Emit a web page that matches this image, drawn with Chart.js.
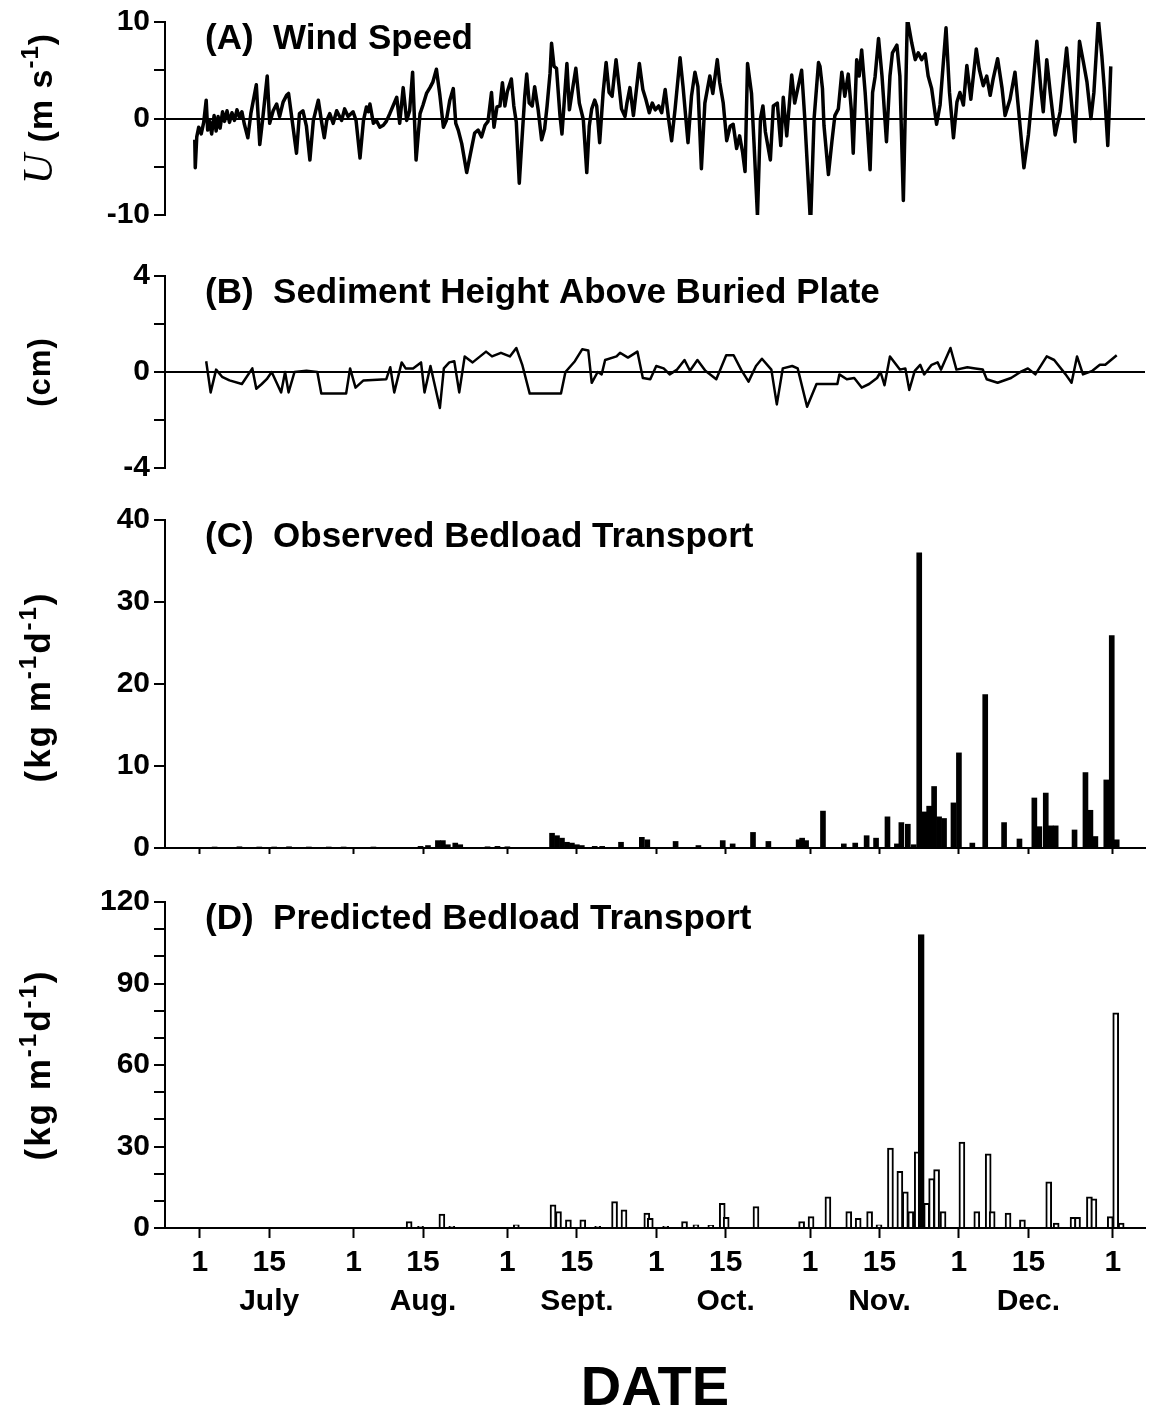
<!DOCTYPE html>
<html>
<head>
<meta charset="utf-8">
<title>Wind speed, sediment height and bedload transport</title>
<script src="https://cdn.jsdelivr.net/npm/chart.js@4.4.1/dist/chart.umd.min.js"></script>
<style>
  body { margin: 0; background: #fff; }
  #page { position: relative; width: 1149px; height: 1415px; overflow: hidden; }
  canvas { position: absolute; left: 0; }
</style>
</head>
<body>
<div id="page">
  <canvas id="windChart" width="1149" height="240" style="top:0px"></canvas>
  <canvas id="sedChart" width="1149" height="240" style="top:250px"></canvas>
  <canvas id="obsChart" width="1149" height="375" style="top:495px"></canvas>
  <canvas id="predChart" width="1149" height="535" style="top:880px"></canvas>
</div>
<script>
const SANS = '"Liberation Sans", Arial, Helvetica, sans-serif';
const SERIF = '"Liberation Serif", "Times New Roman", serif';

Chart.defaults.font.family = SANS;
Chart.defaults.font.weight = 'bold';
Chart.defaults.color = '#000';

// days counted from 1 July (day 0); 1 January is day 184
const dayMin = -7;
const dayMax = 190.5;
const tickDays = [0, 14, 31, 45, 62, 76, 92, 106, 123, 137, 153, 167, 184];
const tickDayLabels = ['1', '15', '1', '15', '1', '15', '1', '15', '1', '15', '1', '15', '1'];
const monthLabels = ['July', 'Aug.', 'Sept.', 'Oct.', 'Nov.', 'Dec.'];

// (A) wind speed, m/s
const windDay = [
  -1.0, -0.9, -0.6, -0.2, 0.3, 0.8, 1.3, 1.6, 2.0, 2.4,
  2.9, 3.3, 3.7, 4.1, 4.6, 5.0, 5.5, 6.0, 6.5, 7.0,
  7.5, 8.0, 8.5, 9.0, 9.7, 10.3, 11.4, 12.1, 12.7, 13.6,
  14.1, 14.8, 15.5, 16.1, 16.8, 17.5, 17.9, 18.7, 19.5, 20.1,
  20.8, 21.5, 22.2, 22.9, 23.9, 24.6, 25.1, 25.6, 26.2, 26.9,
  27.6, 28.6, 29.2, 29.9, 30.9, 31.5, 32.3, 33.0, 33.6, 34.0,
  34.3, 35.0, 35.6, 36.3, 37.0, 37.6, 38.3, 39.7, 40.3, 41.0,
  41.7, 42.3, 42.9, 43.6, 44.4, 45.0, 45.7, 46.4, 47.0, 47.7,
  48.4, 49.1, 49.7, 50.4, 51.1, 51.6, 52.1, 52.8, 53.8, 54.5,
  55.4, 56.1, 56.8, 57.5, 58.1, 58.8, 59.3, 59.9, 60.5, 61.0,
  61.5, 62.0, 62.8, 63.3, 63.8, 64.4, 64.9, 65.5, 65.9, 66.4,
  67.0, 67.5, 68.2, 68.9, 69.5, 70.0, 70.6, 70.9, 71.4, 71.9,
  72.6, 73.0, 73.4, 74.0, 74.5, 75.0, 75.8, 76.5, 77.3, 78.0,
  78.5, 79.0, 79.6, 80.0, 80.6, 81.3, 81.9, 82.5, 83.1, 83.9,
  84.5, 85.0, 85.7, 86.1, 86.7, 87.4, 88.6, 89.3, 89.9, 90.6,
  91.2, 91.8, 92.5, 93.1, 93.8, 94.5, 95.1, 95.8, 96.8, 97.4,
  98.4, 99.1, 99.8, 100.4, 101.1, 101.8, 102.8, 103.4, 104.3, 104.8,
  105.5, 106.2, 106.9, 107.5, 108.2, 108.8, 109.4, 109.9, 110.4, 111.2,
  111.7, 112.4, 113.0, 113.5, 114.0, 115.0, 115.6, 116.4, 117.1, 117.6,
  118.3, 119.3, 119.9, 121.3, 121.9, 123.1, 123.8, 124.7, 125.0, 125.5,
  125.8, 126.7, 127.4, 128.0, 128.7, 129.4, 130.0, 130.7, 131.3, 131.7,
  132.4, 132.9, 133.4, 134.1, 135.1, 135.6, 136.1, 136.8, 137.5, 138.4,
  139.1, 139.6, 140.5, 141.1, 141.8, 142.6, 143.5, 144.2, 144.8, 145.5,
  146.2, 146.8, 147.5, 148.5, 149.2, 150.4, 151.1, 151.9, 152.6, 153.2,
  153.9, 154.6, 155.4, 156.5, 157.1, 157.9, 158.6, 159.3, 159.9, 160.8,
  161.7, 162.3, 163.3, 164.3, 165.0, 166.1, 167.0, 167.8, 168.7, 169.5,
  170.0, 170.7, 171.4, 172.4, 173.4, 174.7, 175.5, 176.4, 177.3, 178.1,
  178.8, 179.6, 180.2, 181.1, 181.8, 182.3, 183.0, 183.3, 183.6
];
const windSpeed = [
  -2.2, -5.1, -1.9, -0.9, -1.6, -0.4, 1.9, -1.2, -0.3, -1.6,
  0.3, -1.3, 0.2, -1.0, 0.7, -0.3, 0.8, -0.4, 0.6, -0.2,
  0.9, 0.1, 0.7, -0.6, -2.0, 0.5, 3.5, -2.7, 0.0, 4.4,
  -0.5, 0.8, 1.5, 0.2, 1.7, 2.4, 2.6, -0.5, -3.6, 0.5,
  0.8, -0.8, -4.3, -0.2, 1.9, -0.5, -2.0, -0.2, 0.5, -0.5,
  0.8, -0.2, 1.0, 0.2, 0.7, -0.2, -4.1, -0.2, 1.2, 0.7,
  1.5, -0.5, -0.2, -0.9, -0.7, -0.3, 0.5, 2.2, -0.5, 3.2,
  -0.2, 0.8, 4.8, -4.3, 0.5, 1.4, 2.6, 3.2, 3.8, 5.1,
  2.4, -0.9, -0.2, 1.9, 3.1, -0.5, -1.2, -2.6, -5.6, -3.8,
  -1.5, -1.2, -1.9, -0.7, -0.3, 2.7, -0.9, 1.2, 1.3, 3.7,
  1.3, 2.8, 4.1, 1.3, -0.4, -6.7, -2.5, 2.3, 4.6, 1.6,
  1.3, 3.3, 0.9, -2.2, -1.1, 1.3, 4.7, 7.8, 5.4, 5.2,
  0.3, -1.6, 1.3, 5.7, 0.9, 2.6, 5.2, 1.6, -0.1, -5.6,
  -0.8, 1.0, 1.9, 1.3, -2.5, 2.7, 5.8, 2.7, 2.3, 6.1,
  3.4, 1.0, 0.2, 1.6, 3.2, 0.3, 5.7, 3.0, 2.0, 0.6,
  1.6, 0.9, 1.3, 0.6, 3.0, -0.1, -2.3, 1.0, 6.3, 3.3,
  -2.5, 2.3, 4.8, 3.3, -5.2, 1.6, 4.4, 2.6, 6.1, 3.7,
  1.6, -2.3, -0.8, -0.6, -3.1, -1.8, -3.5, -5.5, 5.7, 2.6,
  -2.5, -10.1, 0.0, 1.3, -1.4, -4.3, 1.3, 1.6, -2.8, 2.2,
  -1.8, 4.5, 1.6, 5.0, 0.3, -11.0, -0.1, 5.8, 5.4, 3.1,
  -0.7, -5.8, -2.4, 0.3, 1.0, 4.8, 2.3, 4.6, 1.0, -3.6,
  6.1, 4.4, 7.1, 2.7, -5.3, 2.7, 4.3, 8.3, 4.4, -2.4,
  4.4, 6.8, 7.6, 4.4, -8.5, 10.4, 7.8, 6.1, 6.8, 6.1,
  6.7, 4.4, 3.1, -0.6, 1.4, 9.4, 2.7, -2.0, 1.7, 2.7,
  1.4, 5.5, 2.0, 7.2, 5.1, 3.4, 4.4, 2.4, 4.1, 6.2,
  3.1, 0.3, 2.0, 4.8, 1.0, -5.1, -1.7, 2.7, 8.0, 3.1,
  0.7, 6.1, 2.7, -1.7, 0.7, 7.3, 2.7, -2.4, 8.0, 5.8,
  3.8, 0.0, 2.7, 10.3, 6.5, 3.1, -2.8, 1.0, 5.4
];

// (B) sediment height above buried plate, cm
const sedDay = [
  1.3, 2.2, 3.3, 4.5, 6.0, 8.5, 10.6, 11.4, 12.5, 13.5,
  14.5, 16.4, 17.2, 17.9, 19.1, 21.5, 23.7, 24.5, 29.5, 30.3,
  31.4, 33.0, 37.6, 38.4, 39.2, 40.7, 41.5, 43.0, 44.6, 45.3,
  46.5, 48.4, 49.2, 50.3, 51.3, 52.3, 53.4, 55.0, 57.7, 58.9,
  60.7, 62.5, 63.8, 65.0, 66.5, 71.9, 72.8, 73.7, 75.6, 77.1,
  78.3, 79.0, 80.2, 81.0, 81.7, 84.0, 84.7, 86.3, 88.2, 89.3,
  90.8, 92.0, 93.5, 94.7, 96.2, 97.7, 98.8, 100.3, 101.9, 104.1,
  106.1, 107.6, 109.1, 110.6, 112.1, 113.3, 115.2, 116.3, 117.5, 119.4,
  120.5, 122.4, 124.3, 128.5, 128.9, 130.4, 131.9, 133.4, 134.9, 136.5,
  137.2, 138.0, 139.1, 141.1, 142.2, 143.0, 144.1, 145.2, 146.0, 147.5,
  148.7, 149.4, 151.3, 152.5, 154.7, 156.3, 157.8, 158.6, 160.8, 163.5,
  165.4, 166.9, 168.4, 170.7, 172.2, 174.5, 175.7, 176.8, 178.0, 179.9,
  181.4, 182.5, 184.8
];
const sedHeight = [
  0.45, -0.85, 0.1, -0.2, -0.35, -0.5, 0.15, -0.7, -0.5, -0.3,
  0.0, -0.85, 0.0, -0.85, 0.0, 0.05, 0.0, -0.9, -0.9, 0.15,
  -0.65, -0.35, -0.3, 0.2, -0.85, 0.4, 0.15, 0.15, 0.4, -0.85,
  0.25, -1.5, 0.15, 0.4, 0.45, -0.85, 0.65, 0.4, 0.85, 0.65,
  0.8, 0.65, 1.0, 0.3, -0.9, -0.9, -0.9, 0.0, 0.45, 0.95,
  0.9, -0.45, 0.0, -0.1, 0.5, 0.65, 0.8, 0.6, 0.85, -0.25,
  -0.3, 0.25, 0.15, -0.1, 0.1, 0.5, 0.05, 0.5, 0.05, -0.3,
  0.7, 0.7, 0.1, -0.4, 0.25, 0.55, 0.1, -1.35, 0.15, 0.25,
  0.15, -1.45, -0.5, -0.5, -0.1, -0.3, -0.25, -0.65, -0.5, -0.25,
  0.0, -0.55, 0.65, 0.1, 0.15, -0.75, 0.05, 0.3, -0.1, 0.3,
  0.4, 0.1, 1.0, 0.1, 0.2, 0.15, 0.1, -0.3, -0.45, -0.25,
  0.0, 0.15, -0.1, 0.65, 0.5, -0.1, -0.45, 0.65, -0.1, 0.05,
  0.3, 0.3, 0.7
];

// (C) observed bedload transport, kg/m/d
const obsDay = [
  3, 8, 12, 15, 18, 22, 26, 29, 35, 44.5,
  46, 48, 49, 50, 51.5, 52.5, 58, 60, 62, 71,
  72, 73, 74, 75, 76, 77, 79.6, 81.1, 84.9, 89.1,
  90.2, 95.9, 100.5, 105.4, 107.4, 111.5, 114.6, 120.7, 121.4, 122.2,
  125.6, 129.8, 132.1, 134.4, 136.3, 138.6, 140.5, 141.4, 142.7, 143.9,
  145, 146, 147, 148, 149, 150, 151.9, 153, 155.7, 158.3,
  162.1, 165.2, 168.2, 169.2, 170.5, 171.5, 172.5, 176.3, 178.5, 179.5,
  180.5, 182.7, 183.8, 184.8
];
const obsLoad = [
  0.1, 0.15, 0.1, 0.1, 0.15, 0.1, 0.1, 0.1, 0.1, 0.2,
  0.3, 0.9, 0.9, 0.4, 0.6, 0.4, 0.15, 0.2, 0.15, 1.8,
  1.5, 1.2, 0.7, 0.6, 0.4, 0.3, 0.2, 0.2, 0.7, 1.3,
  1.0, 0.8, 0.3, 0.9, 0.5, 1.9, 0.8, 1.0, 1.2, 0.9,
  4.5, 0.5, 0.6, 1.5, 1.2, 3.8, 0.5, 3.1, 2.9, 0.4,
  36, 4.4, 5.1, 7.5, 3.8, 3.6, 5.5, 11.6, 0.6, 18.7,
  3.1, 1.1, 6.1, 2.6, 6.7, 2.7, 2.7, 2.2, 9.2, 4.6,
  1.4, 8.3, 25.9, 1.0
];

// (D) predicted bedload transport, kg/m/d
const predDay = [
  42.2, 44.5, 48.8, 50.8, 63.8, 71.2, 72.3, 74.3, 77.2, 80.2,
  83.6, 85.5, 90.1, 90.8, 93.9, 97.7, 100.0, 103.0, 105.3, 106.1,
  112.1, 121.3, 123.2, 126.6, 130.8, 132.7, 135.0, 136.9, 139.2, 141.1,
  142.2, 143.3, 144.6, 145.4, 146.5, 147.5, 148.5, 149.8, 153.6, 156.6,
  158.9, 159.7, 162.9, 165.8, 171.1, 172.6, 176.0, 176.9, 179.3, 180.2,
  183.5, 184.6, 185.7
];
const predLoad = [
  2.4, 0.6, 5.1, 0.6, 1.2, 8.5, 6.0, 3.0, 3.0, 0.6,
  9.7, 6.7, 5.5, 3.6, 0.6, 2.4, 1.2, 1.0, 9.1, 3.9,
  7.9, 2.4, 4.2, 11.5, 6.0, 3.6, 6.0, 1.2, 29.4, 20.9,
  13.3, 6.0, 28, 108, 9.1, 18.2, 21.5, 6.0, 31.6, 6.0,
  27.3, 6.0, 5.5, 3.0, 17.0, 1.8, 3.9, 3.9, 11.5, 10.7,
  4.2, 79.2, 1.8
];

function toPoints(xs, ys) {
  return xs.map((x, i) => ({ x: x, y: ys[i] }));
}

const windUnits = [
  { text: 'U', font: 'italic 42px ' + SERIF },
  { text: ' (m s', font: 'bold 34px ' + SANS },
  { text: '-1', font: 'bold 24px ' + SANS, rise: 14 },
  { text: ')', font: 'bold 34px ' + SANS }
];
const cmUnits = [
  { text: '(cm)', font: 'bold 31px ' + SANS }
];
const loadUnits = [
  { text: '(kg m', font: 'bold 35px ' + SANS },
  { text: '-1', font: 'bold 24px ' + SANS, rise: 14 },
  { text: 'd', font: 'bold 35px ' + SANS },
  { text: '-1', font: 'bold 24px ' + SANS, rise: 14 },
  { text: ')', font: 'bold 35px ' + SANS }
];

// panel letter/title inside the plot, and the rotated unit label on the left
function panelText(title, units, unitX, unitDy, spacing) {
  return {
    id: 'panelText',
    afterDraw(chart) {
      const ctx = chart.ctx;
      const area = chart.chartArea;
      ctx.save();
      ctx.fillStyle = '#000';
      ctx.textBaseline = 'middle';
      ctx.font = 'bold 35px ' + SANS;
      ctx.fillText(title, area.left + 40, area.top + 17);

      ctx.textBaseline = 'alphabetic';
      ctx.translate(unitX, (area.top + area.bottom) / 2 + unitDy);
      ctx.rotate(-Math.PI / 2);
      ctx.letterSpacing = spacing + 'px';
      let total = 0;
      units.forEach(p => { ctx.font = p.font; total += ctx.measureText(p.text).width; });
      let x = -total / 2;
      units.forEach(p => {
        ctx.font = p.font;
        ctx.fillText(p.text, x, 12 - (p.rise || 0));
        x += ctx.measureText(p.text).width;
      });
      ctx.restore();
    }
  };
}

function yAxis(min, max, step, labelEvery, zeroLine) {
  return {
    min: min,
    max: max,
    afterFit: axis => { axis.width = 165; },
    ticks: {
      stepSize: step,
      autoSkip: false,
      padding: 4,
      font: { size: 30, weight: 'bold' },
      callback: v => (v % labelEvery === 0 ? v : '')
    },
    grid: {
      drawOnChartArea: zeroLine,
      color: c => (c.tick && c.tick.value === 0 ? '#000' : 'rgba(0,0,0,0)'),
      lineWidth: 2,
      tickColor: '#000',
      tickWidth: 2,
      tickLength: 11
    },
    border: { color: '#000', width: 2 }
  };
}

function xAxis(kind) {
  const ax = {
    type: 'linear',
    min: dayMin,
    max: dayMax,
    offset: false,
    display: kind !== 'none',
    afterBuildTicks: axis => { axis.ticks = tickDays.map(v => ({ value: v })); },
    grid: { drawOnChartArea: false, offset: false, tickColor: '#000', tickWidth: 2, tickLength: 6 },
    border: { color: '#000', width: 2 },
    ticks: { display: false }
  };
  if (kind === 'small') {
    ax.afterFit = axis => { axis.height = 20; };
  }
  if (kind === 'full') {
    ax.afterFit = axis => { axis.height = 187; };
    ax.grid.tickLength = 10;
    ax.ticks = {
      display: true,
      autoSkip: false,
      maxRotation: 0,
      minRotation: 0,
      padding: 5,
      font: { size: 30, weight: 'bold', lineHeight: 1.3 },
      callback: (v, i) => (i % 2 ? [tickDayLabels[i], monthLabels[(i - 1) / 2]] : tickDayLabels[i])
    };
    ax.title = {
      display: true,
      text: 'DATE',
      font: { size: 56, weight: 'bold', lineHeight: 1 },
      padding: { top: 0, bottom: -3 }
    };
  }
  return ax;
}

const common = {
  responsive: false,
  animation: false,
  events: [],
  plugins: { legend: { display: false }, tooltip: { enabled: false } }
};

new Chart(document.getElementById('windChart'), {
  type: 'line',
  data: {
    datasets: [{
      data: toPoints(windDay, windSpeed),
      borderColor: '#000',
      borderWidth: 3.5,
      borderJoinStyle: 'round',
      pointRadius: 0,
      tension: 0
    }]
  },
  options: Object.assign({}, common, {
    layout: { padding: { top: 20, bottom: 25, left: 0, right: 4 } },
    scales: { x: xAxis('none'), y: yAxis(-10, 10, 5, 10, true) }
  }),
  plugins: [panelText('(A)  Wind Speed', windUnits, 40, -10, 1)]
});

new Chart(document.getElementById('sedChart'), {
  type: 'line',
  data: {
    datasets: [{
      data: toPoints(sedDay, sedHeight),
      borderColor: '#000',
      borderWidth: 2.5,
      borderJoinStyle: 'round',
      pointRadius: 0,
      tension: 0
    }]
  },
  options: Object.assign({}, common, {
    layout: { padding: { top: 26, bottom: 22, left: 0, right: 4 } },
    scales: { x: xAxis('none'), y: yAxis(-4, 4, 2, 4, true) }
  }),
  plugins: [panelText('(B)  Sediment Height Above Buried Plate', cmUnits, 38, 0, 1)]
});

new Chart(document.getElementById('obsChart'), {
  type: 'bar',
  data: {
    datasets: [{
      data: toPoints(obsDay, obsLoad),
      backgroundColor: '#000',
      borderWidth: 0,
      barThickness: 5
    }]
  },
  options: Object.assign({}, common, {
    layout: { padding: { top: 25, bottom: 0, left: 0, right: 4 } },
    scales: { x: xAxis('small'), y: yAxis(0, 40, 10, 10, false) }
  }),
  plugins: [panelText('(C)  Observed Bedload Transport', loadUnits, 38, 3, 2)]
});

new Chart(document.getElementById('predChart'), {
  type: 'bar',
  data: {
    datasets: [{
      data: toPoints(predDay, predLoad),
      backgroundColor: c => (c.raw && c.raw.y > 100 ? '#000' : '#fff'),
      borderColor: '#000',
      borderWidth: 2,
      barThickness: 6
    }]
  },
  options: Object.assign({}, common, {
    layout: { padding: { top: 21, bottom: 0, left: 0, right: 4 } },
    scales: { x: xAxis('full'), y: yAxis(0, 120, 10, 30, false) }
  }),
  plugins: [panelText('(D)  Predicted Bedload Transport', loadUnits, 38, 0, 2)]
});
</script>
</body>
</html>
